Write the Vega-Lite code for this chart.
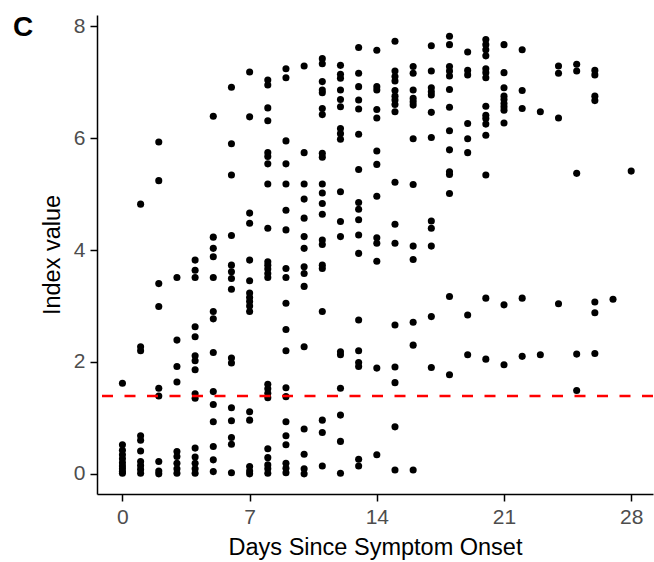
{
  "$schema": "https://vega.github.io/schema/vega-lite/v6.json",
  "width": 556,
  "height": 479,
  "autosize": {"type": "none"},
  "padding": {"left": 97, "top": 15, "right": 1, "bottom": 68},
  "background": "white",
  "config": {
    "view": {"stroke": null},
    "font": "Liberation Sans",
    "axis": {
      "grid": false,
      "domainColor": "black",
      "domainWidth": 1.5,
      "tickColor": "black",
      "tickWidth": 1.5,
      "tickSize": 7,
      "labelFontSize": 21,
      "labelColor": "#4D4D4D",
      "labelFont": "Liberation Sans",
      "titleFont": "Liberation Sans",
      "titleFontSize": 23.5,
      "titleFontWeight": "normal",
      "titleColor": "black"
    }
  },
  "title": {
    "text": "C",
    "anchor": "start",
    "frame": "group",
    "fontSize": 28,
    "fontWeight": "bold",
    "font": "Liberation Sans",
    "color": "black",
    "baseline": "top",
    "dx": -84,
    "dy": 31
  },
  "layer": [
    {
      "data": {
        "values": [
          {"day": 0, "value": 1.62}, {"day": 0, "value": 0.52}, {"day": 0, "value": 0.42}, {"day": 0, "value": 0.34}, {"day": 0, "value": 0.27}, {"day": 0, "value": 0.2}, {"day": 0, "value": 0.14}, {"day": 0, "value": 0.09}, {"day": 0, "value": 0.04}, {"day": 0, "value": 0.01},
          {"day": 1, "value": 4.82}, {"day": 1, "value": 2.27}, {"day": 1, "value": 2.2}, {"day": 1, "value": 0.68}, {"day": 1, "value": 0.6}, {"day": 1, "value": 0.41}, {"day": 1, "value": 0.22}, {"day": 1, "value": 0.15}, {"day": 1, "value": 0.08}, {"day": 1, "value": 0.01},
          {"day": 2, "value": 5.93}, {"day": 2, "value": 5.24}, {"day": 2, "value": 3.4}, {"day": 2, "value": 2.99}, {"day": 2, "value": 1.53}, {"day": 2, "value": 1.39}, {"day": 2, "value": 0.22}, {"day": 2, "value": 0.05}, {"day": 2, "value": 0.0},
          {"day": 3, "value": 3.51}, {"day": 3, "value": 2.39}, {"day": 3, "value": 1.92}, {"day": 3, "value": 1.64}, {"day": 3, "value": 0.4}, {"day": 3, "value": 0.31}, {"day": 3, "value": 0.19}, {"day": 3, "value": 0.09}, {"day": 3, "value": 0.01},
          {"day": 4, "value": 3.82}, {"day": 4, "value": 3.64}, {"day": 4, "value": 3.51}, {"day": 4, "value": 2.63}, {"day": 4, "value": 2.45}, {"day": 4, "value": 2.11}, {"day": 4, "value": 2.02}, {"day": 4, "value": 1.86}, {"day": 4, "value": 1.43}, {"day": 4, "value": 1.35}, {"day": 4, "value": 0.46}, {"day": 4, "value": 0.3}, {"day": 4, "value": 0.19}, {"day": 4, "value": 0.09}, {"day": 4, "value": 0.01},
          {"day": 5, "value": 6.39}, {"day": 5, "value": 4.23}, {"day": 5, "value": 4.03}, {"day": 5, "value": 3.88}, {"day": 5, "value": 3.51}, {"day": 5, "value": 2.9}, {"day": 5, "value": 2.77}, {"day": 5, "value": 2.17}, {"day": 5, "value": 1.47}, {"day": 5, "value": 1.24}, {"day": 5, "value": 0.93}, {"day": 5, "value": 0.49}, {"day": 5, "value": 0.25}, {"day": 5, "value": 0.04},
          {"day": 6, "value": 6.91}, {"day": 6, "value": 5.9}, {"day": 6, "value": 5.34}, {"day": 6, "value": 4.26}, {"day": 6, "value": 3.73}, {"day": 6, "value": 3.61}, {"day": 6, "value": 3.49}, {"day": 6, "value": 3.3}, {"day": 6, "value": 2.07}, {"day": 6, "value": 1.98}, {"day": 6, "value": 1.18}, {"day": 6, "value": 0.95}, {"day": 6, "value": 0.65}, {"day": 6, "value": 0.53}, {"day": 6, "value": 0.02},
          {"day": 7, "value": 7.18}, {"day": 7, "value": 6.38}, {"day": 7, "value": 4.66}, {"day": 7, "value": 4.48}, {"day": 7, "value": 3.82}, {"day": 7, "value": 3.45}, {"day": 7, "value": 3.23}, {"day": 7, "value": 3.15}, {"day": 7, "value": 3.08}, {"day": 7, "value": 3.0}, {"day": 7, "value": 2.9}, {"day": 7, "value": 1.11}, {"day": 7, "value": 0.96}, {"day": 7, "value": 0.13}, {"day": 7, "value": 0.05}, {"day": 7, "value": 0.0},
          {"day": 8, "value": 7.04}, {"day": 8, "value": 6.95}, {"day": 8, "value": 6.54}, {"day": 8, "value": 6.31}, {"day": 8, "value": 5.74}, {"day": 8, "value": 5.67}, {"day": 8, "value": 5.54}, {"day": 8, "value": 5.18}, {"day": 8, "value": 4.39}, {"day": 8, "value": 3.79}, {"day": 8, "value": 3.73}, {"day": 8, "value": 3.66}, {"day": 8, "value": 3.58}, {"day": 8, "value": 3.51}, {"day": 8, "value": 1.6}, {"day": 8, "value": 1.52}, {"day": 8, "value": 1.44}, {"day": 8, "value": 1.36}, {"day": 8, "value": 0.45}, {"day": 8, "value": 0.29}, {"day": 8, "value": 0.16}, {"day": 8, "value": 0.09}, {"day": 8, "value": 0.01},
          {"day": 9, "value": 7.24}, {"day": 9, "value": 7.08}, {"day": 9, "value": 5.95}, {"day": 9, "value": 5.54}, {"day": 9, "value": 5.18}, {"day": 9, "value": 4.71}, {"day": 9, "value": 4.36}, {"day": 9, "value": 3.67}, {"day": 9, "value": 3.51}, {"day": 9, "value": 3.05}, {"day": 9, "value": 2.58}, {"day": 9, "value": 2.2}, {"day": 9, "value": 1.54}, {"day": 9, "value": 1.38}, {"day": 9, "value": 0.93}, {"day": 9, "value": 0.68}, {"day": 9, "value": 0.52}, {"day": 9, "value": 0.19}, {"day": 9, "value": 0.1}, {"day": 9, "value": 0.02},
          {"day": 10, "value": 7.29}, {"day": 10, "value": 5.74}, {"day": 10, "value": 5.18}, {"day": 10, "value": 4.91}, {"day": 10, "value": 4.57}, {"day": 10, "value": 4.24}, {"day": 10, "value": 4.03}, {"day": 10, "value": 3.7}, {"day": 10, "value": 3.58}, {"day": 10, "value": 3.35}, {"day": 10, "value": 2.27}, {"day": 10, "value": 0.8}, {"day": 10, "value": 0.35}, {"day": 10, "value": 0.09}, {"day": 10, "value": 0.0},
          {"day": 11, "value": 7.42}, {"day": 11, "value": 7.33}, {"day": 11, "value": 7.01}, {"day": 11, "value": 6.86}, {"day": 11, "value": 6.81}, {"day": 11, "value": 6.53}, {"day": 11, "value": 6.42}, {"day": 11, "value": 5.73}, {"day": 11, "value": 5.66}, {"day": 11, "value": 5.18}, {"day": 11, "value": 5.02}, {"day": 11, "value": 4.83}, {"day": 11, "value": 4.64}, {"day": 11, "value": 4.18}, {"day": 11, "value": 4.1}, {"day": 11, "value": 3.73}, {"day": 11, "value": 3.67}, {"day": 11, "value": 2.9}, {"day": 11, "value": 0.96}, {"day": 11, "value": 0.74}, {"day": 11, "value": 0.14},
          {"day": 12, "value": 7.3}, {"day": 12, "value": 7.14}, {"day": 12, "value": 7.07}, {"day": 12, "value": 6.86}, {"day": 12, "value": 6.69}, {"day": 12, "value": 6.56}, {"day": 12, "value": 6.17}, {"day": 12, "value": 6.08}, {"day": 12, "value": 5.98}, {"day": 12, "value": 5.04}, {"day": 12, "value": 4.51}, {"day": 12, "value": 4.24}, {"day": 12, "value": 2.18}, {"day": 12, "value": 2.13}, {"day": 12, "value": 1.53}, {"day": 12, "value": 1.05}, {"day": 12, "value": 0.58}, {"day": 12, "value": 0.01},
          {"day": 13, "value": 7.62}, {"day": 13, "value": 7.16}, {"day": 13, "value": 6.92}, {"day": 13, "value": 6.68}, {"day": 13, "value": 6.52}, {"day": 13, "value": 6.07}, {"day": 13, "value": 5.44}, {"day": 13, "value": 4.85}, {"day": 13, "value": 4.73}, {"day": 13, "value": 4.54}, {"day": 13, "value": 4.27}, {"day": 13, "value": 3.94}, {"day": 13, "value": 2.75}, {"day": 13, "value": 2.2}, {"day": 13, "value": 1.99}, {"day": 13, "value": 1.92}, {"day": 13, "value": 0.26}, {"day": 13, "value": 0.14},
          {"day": 14, "value": 7.57}, {"day": 14, "value": 6.92}, {"day": 14, "value": 6.86}, {"day": 14, "value": 6.51}, {"day": 14, "value": 6.36}, {"day": 14, "value": 5.77}, {"day": 14, "value": 5.53}, {"day": 14, "value": 4.96}, {"day": 14, "value": 4.22}, {"day": 14, "value": 4.12}, {"day": 14, "value": 3.8}, {"day": 14, "value": 1.89}, {"day": 14, "value": 0.34},
          {"day": 15, "value": 7.73}, {"day": 15, "value": 7.2}, {"day": 15, "value": 7.1}, {"day": 15, "value": 7.02}, {"day": 15, "value": 6.85}, {"day": 15, "value": 6.75}, {"day": 15, "value": 6.68}, {"day": 15, "value": 6.6}, {"day": 15, "value": 6.47}, {"day": 15, "value": 5.21}, {"day": 15, "value": 4.46}, {"day": 15, "value": 4.12}, {"day": 15, "value": 2.66}, {"day": 15, "value": 1.91}, {"day": 15, "value": 1.63}, {"day": 15, "value": 0.84}, {"day": 15, "value": 0.07},
          {"day": 16, "value": 7.28}, {"day": 16, "value": 7.16}, {"day": 16, "value": 6.86}, {"day": 16, "value": 6.71}, {"day": 16, "value": 6.65}, {"day": 16, "value": 6.59}, {"day": 16, "value": 5.99}, {"day": 16, "value": 5.17}, {"day": 16, "value": 4.07}, {"day": 16, "value": 3.83}, {"day": 16, "value": 2.71}, {"day": 16, "value": 2.3}, {"day": 16, "value": 0.07},
          {"day": 17, "value": 7.65}, {"day": 17, "value": 7.2}, {"day": 17, "value": 6.9}, {"day": 17, "value": 6.83}, {"day": 17, "value": 6.77}, {"day": 17, "value": 6.46}, {"day": 17, "value": 6.01}, {"day": 17, "value": 4.52}, {"day": 17, "value": 4.39}, {"day": 17, "value": 4.07}, {"day": 17, "value": 2.81}, {"day": 17, "value": 1.9},
          {"day": 18, "value": 7.82}, {"day": 18, "value": 7.67}, {"day": 18, "value": 7.28}, {"day": 18, "value": 7.2}, {"day": 18, "value": 7.11}, {"day": 18, "value": 6.87}, {"day": 18, "value": 6.55}, {"day": 18, "value": 6.13}, {"day": 18, "value": 5.79}, {"day": 18, "value": 5.4}, {"day": 18, "value": 5.35}, {"day": 18, "value": 5.01}, {"day": 18, "value": 3.17}, {"day": 18, "value": 1.77},
          {"day": 19, "value": 7.54}, {"day": 19, "value": 7.21}, {"day": 19, "value": 7.13}, {"day": 19, "value": 6.26}, {"day": 19, "value": 5.99}, {"day": 19, "value": 5.74}, {"day": 19, "value": 2.84}, {"day": 19, "value": 2.13},
          {"day": 20, "value": 7.76}, {"day": 20, "value": 7.67}, {"day": 20, "value": 7.58}, {"day": 20, "value": 7.47}, {"day": 20, "value": 7.24}, {"day": 20, "value": 7.17}, {"day": 20, "value": 7.08}, {"day": 20, "value": 6.57}, {"day": 20, "value": 6.41}, {"day": 20, "value": 6.35}, {"day": 20, "value": 6.25}, {"day": 20, "value": 6.05}, {"day": 20, "value": 5.34}, {"day": 20, "value": 3.14}, {"day": 20, "value": 2.05},
          {"day": 21, "value": 7.67}, {"day": 21, "value": 7.17}, {"day": 21, "value": 6.9}, {"day": 21, "value": 6.75}, {"day": 21, "value": 6.69}, {"day": 21, "value": 6.62}, {"day": 21, "value": 6.56}, {"day": 21, "value": 6.5}, {"day": 21, "value": 6.27}, {"day": 21, "value": 3.02}, {"day": 21, "value": 1.95},
          {"day": 22, "value": 7.58}, {"day": 22, "value": 6.85}, {"day": 22, "value": 6.53}, {"day": 22, "value": 3.14}, {"day": 22, "value": 2.1},
          {"day": 23, "value": 6.47}, {"day": 23, "value": 2.13},
          {"day": 24, "value": 7.29}, {"day": 24, "value": 7.16}, {"day": 24, "value": 6.36}, {"day": 24, "value": 3.04},
          {"day": 25, "value": 7.32}, {"day": 25, "value": 7.2}, {"day": 25, "value": 5.37}, {"day": 25, "value": 2.14}, {"day": 25, "value": 1.49},
          {"day": 26, "value": 7.21}, {"day": 26, "value": 7.13}, {"day": 26, "value": 6.75}, {"day": 26, "value": 6.67}, {"day": 26, "value": 3.07}, {"day": 26, "value": 2.88}, {"day": 26, "value": 2.15},
          {"day": 27, "value": 3.12},
          {"day": 28, "value": 5.41}
        ]
      },
      "mark": {"type": "circle", "size": 50, "color": "black", "opacity": 1},
      "encoding": {
        "x": {
          "field": "day",
          "type": "quantitative",
          "scale": {"domain": [-1.4, 29.2], "nice": false, "zero": false},
          "axis": {"values": [0, 7, 14, 21, 28], "title": "Days Since Symptom Onset", "labelPadding": 5, "titlePadding": 8}
        },
        "y": {
          "field": "value",
          "type": "quantitative",
          "scale": {"domain": [-0.36, 8.2], "nice": false, "zero": false},
          "axis": {"values": [0, 2, 4, 6, 8], "title": "Index value", "labelPadding": 5, "titlePadding": 9}
        }
      }
    },
    {
      "data": {"values": [{"cutoff": 1.39}]},
      "mark": {"type": "rule", "color": "#FF0000", "strokeWidth": 2.5, "strokeDash": [11, 11.5]},
      "encoding": {
        "y": {"field": "cutoff", "type": "quantitative"}
      }
    }
  ]
}
